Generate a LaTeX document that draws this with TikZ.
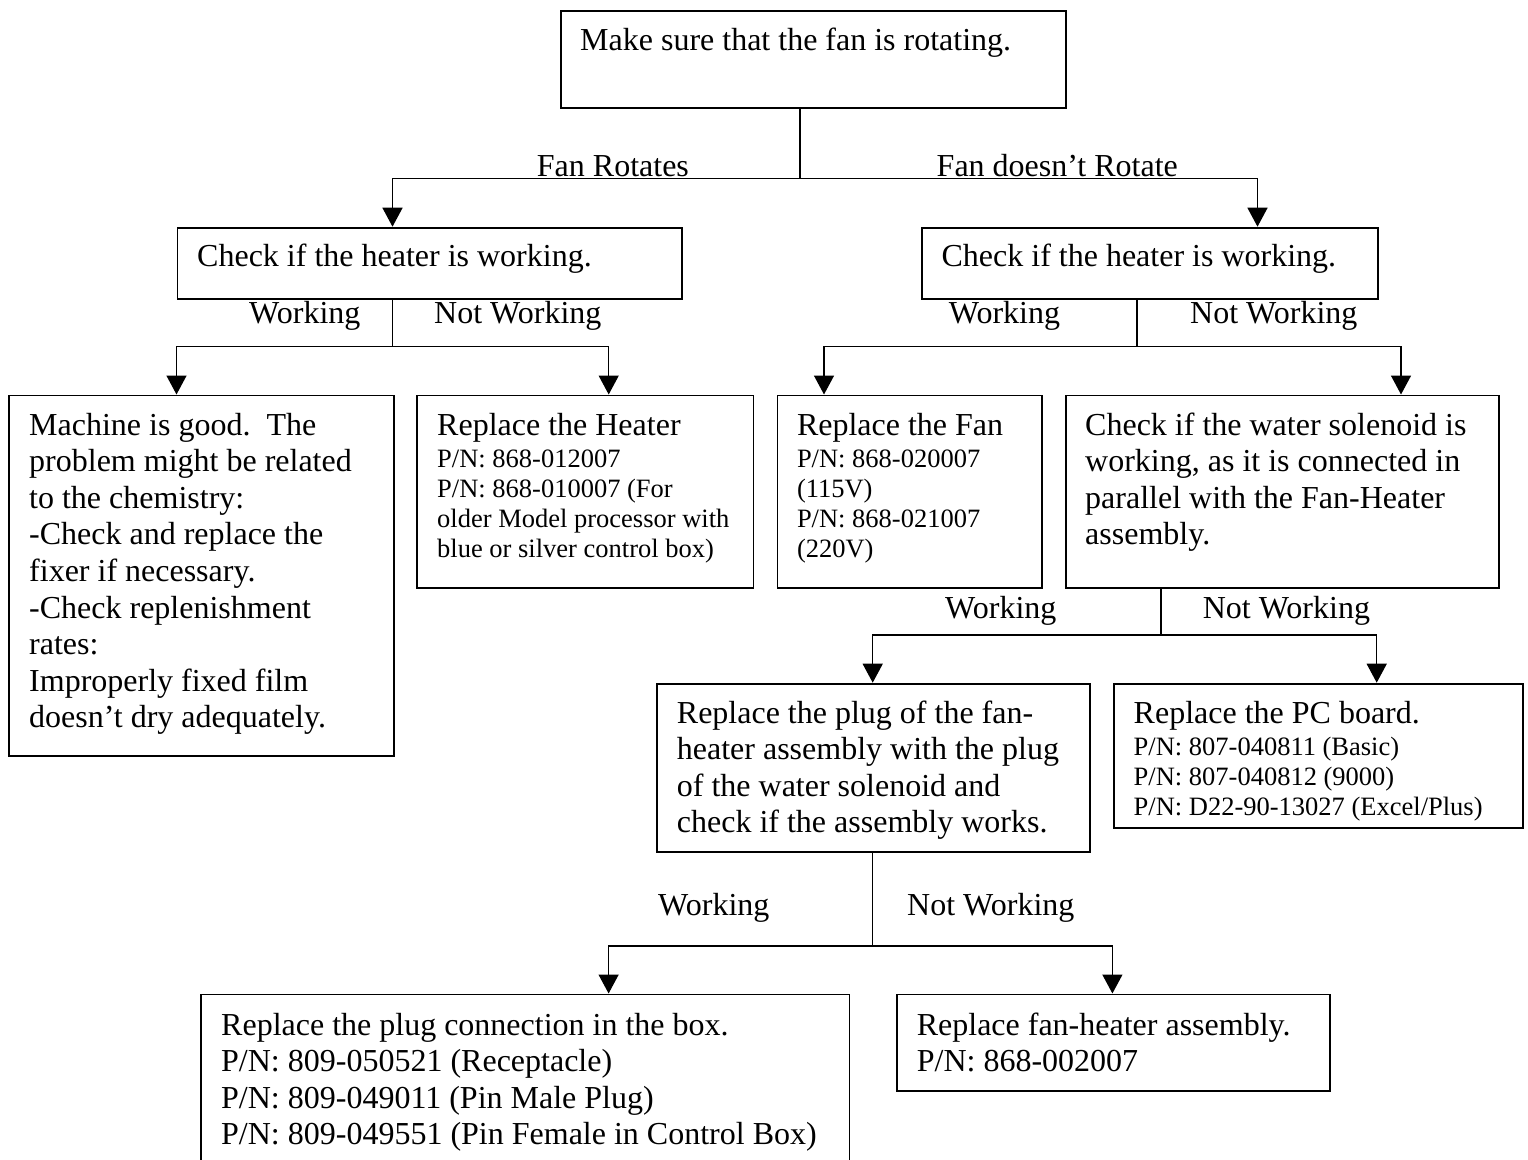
\documentclass[tikz,border=0pt]{standalone}
\usepackage{fontspec}
\setmainfont{Liberation Serif}
\usetikzlibrary{arrows.meta}
\newcommand\bigf{\fontsize{32}{36.6}\selectfont}
\newcommand\smf{\fontsize{26.5}{30}\selectfont}
\begin{document}
\begin{tikzpicture}[x=1pt,y=-1pt,
  boxst/.style={draw, line width=1.8pt, inner sep=0pt, anchor=north west},
  txt/.style={anchor=base west, inner sep=0pt, font=\bigf},
  stxt/.style={anchor=base west, inner sep=0pt, font=\smf},
  conn/.style={line width=1.5pt},
  arr/.style={conn, -{Triangle[length=19pt,width=20pt]}}]
\useasboundingbox (0,0) rectangle (1528,1159);
\fill[white] (0,0) rectangle (1528,1159);
\clip (0,0) rectangle (1528,1159);

% boxes
\node[boxst, minimum width=505pt, minimum height=96.7pt] (top) at (560,10) {};
\node[boxst, minimum width=504.5pt, minimum height=71.6pt] (hL) at (176.5,226.7) {};
\node[boxst, minimum width=455.9pt, minimum height=71.6pt] (hR) at (920.8,226.7) {};
\node[boxst, minimum width=385.3pt, minimum height=360.5pt] (mach) at (7.7,394.5) {};
\node[boxst, minimum width=336.6pt, minimum height=192.2pt] (heat) at (416,394.5) {};
\node[boxst, minimum width=264.5pt, minimum height=192.2pt] (fan) at (776.5,394.5) {};
\node[boxst, minimum width=432.7pt, minimum height=192.2pt] (sol) at (1065,394.5) {};
\node[boxst, minimum width=433pt, minimum height=168pt] (plug) at (656,682.7) {};
\node[boxst, minimum width=409pt, minimum height=144pt] (pc) at (1113,682.7) {};
\node[boxst, minimum width=648.5pt, minimum height=200pt] (cbox) at (200,993.5) {};
\node[boxst, minimum width=432.7pt, minimum height=96.5pt] (fh) at (896,993.5) {};

% box texts
\node[txt] (ttop) at (580,50.7) {Make sure that the fan is rotating.};
\node[txt] (thL) at (197,266.7) {Check if the heater is working.};
\node[txt] (thR) at (941.4,266.7) {Check if the heater is working.};
\node[txt] (tmach) at (29,435) {\begin{tabular}[t]{@{}l@{}}Machine is good.\ \ The\\ problem might be related\\ to the chemistry:\\ -Check and replace the\\ fixer if necessary.\\ -Check replenishment\\ rates:\\ Improperly fixed film\\ doesn’t dry adequately.\end{tabular}};
\node[stxt] (theat) at (437,435) {\begin{tabular}[t]{@{}l@{}}\bigf Replace the Heater\\[2pt] P/N: 868-012007\\ P/N: 868-010007 (For\\ older Model processor with\\ blue or silver control box)\end{tabular}};
\node[stxt] (tfan) at (796.8,435) {\begin{tabular}[t]{@{}l@{}}\bigf Replace the Fan\\[2pt] P/N: 868-020007\\ (115V)\\ P/N: 868-021007\\ (220V)\end{tabular}};
\node[txt] (tsol) at (1085,435) {\begin{tabular}[t]{@{}l@{}}Check if the water solenoid is\\ working, as it is connected in\\ parallel with the Fan-Heater\\ assembly.\end{tabular}};
\node[txt] (tplug) at (676.7,723) {\begin{tabular}[t]{@{}l@{}}Replace the plug of the fan-\\ heater assembly with the plug\\ of the water solenoid and\\ check if the assembly works.\end{tabular}};
\node[stxt] (tpc) at (1133.5,723) {\begin{tabular}[t]{@{}l@{}}\bigf Replace the PC board.\\[2pt] P/N: 807-040811 (Basic)\\ P/N: 807-040812 (9000)\\ P/N: D22-90-13027 (Excel/Plus)\end{tabular}};
\node[txt] (tcbox) at (221,1035) {\begin{tabular}[t]{@{}l@{}}Replace the plug connection in the box.\\ P/N: 809-050521 (Receptacle)\\ P/N: 809-049011 (Pin Male Plug)\\ P/N: 809-049551 (Pin Female in Control Box)\end{tabular}};
\node[txt] (tfh) at (916.6,1035) {\begin{tabular}[t]{@{}l@{}}Replace fan-heater assembly.\\ P/N: 868-002007\end{tabular}};

% branch labels
\node[txt] (l0a) at (536.7,176.7) {Fan Rotates};
\node[txt] (l0b) at (936.5,176.7) {Fan doesn’t Rotate};
\node[txt] (l1a) at (249,323.3) {Working};
\node[txt] (l1b) at (434,323.3) {Not Working};
\node[txt] (l2a) at (948.7,323.3) {Working};
\node[txt] (l2b) at (1190,323.3) {Not Working};
\node[txt] (l3a) at (945,618.3) {Working};
\node[txt] (l3b) at (1202.6,618.3) {Not Working};
\node[txt] (l4a) at (658,915) {Working};
\node[txt] (l4b) at (907,915) {Not Working};

% connectors
\coordinate (j0) at (800,178.3);
\coordinate (a1) at (392.5,178.3);
\coordinate (a2) at (1257.5,178.3);
\draw[conn] (j0 |- top.south) -- (j0);
\draw[arr] (j0) -- (a1) -- (a1 |- hL.north);
\draw[arr] (j0) -- (a2) -- (a2 |- hR.north);

\coordinate (j1) at (392.5,346.7);
\coordinate (b1) at (176.5,346.7);
\coordinate (b2) at (608.7,346.7);
\draw[conn] (j1 |- hL.south) -- (j1);
\draw[arr] (j1) -- (b1) -- (b1 |- mach.north);
\draw[arr] (j1) -- (b2) -- (b2 |- heat.north);

\coordinate (j2) at (1137,346.7);
\coordinate (c1) at (824,346.7);
\coordinate (c2) at (1401,346.7);
\draw[conn] (j2 |- hR.south) -- (j2);
\draw[arr] (j2) -- (c1) -- (c1 |- fan.north);
\draw[arr] (j2) -- (c2) -- (c2 |- sol.north);

\coordinate (j3) at (1161,635);
\coordinate (d1) at (872.7,635);
\coordinate (d2) at (1376.7,635);
\draw[conn] (j3 |- sol.south) -- (j3);
\draw[arr] (j3) -- (d1) -- (d1 |- plug.north);
\draw[arr] (j3) -- (d2) -- (d2 |- pc.north);

\coordinate (j4) at (872.6,946);
\coordinate (e1) at (608.6,946);
\coordinate (e2) at (1112.4,946);
\draw[conn] (j4 |- plug.south) -- (j4);
\draw[arr] (j4) -- (e1) -- (e1 |- cbox.north);
\draw[arr] (j4) -- (e2) -- (e2 |- fh.north);
\end{tikzpicture}
\end{document}
